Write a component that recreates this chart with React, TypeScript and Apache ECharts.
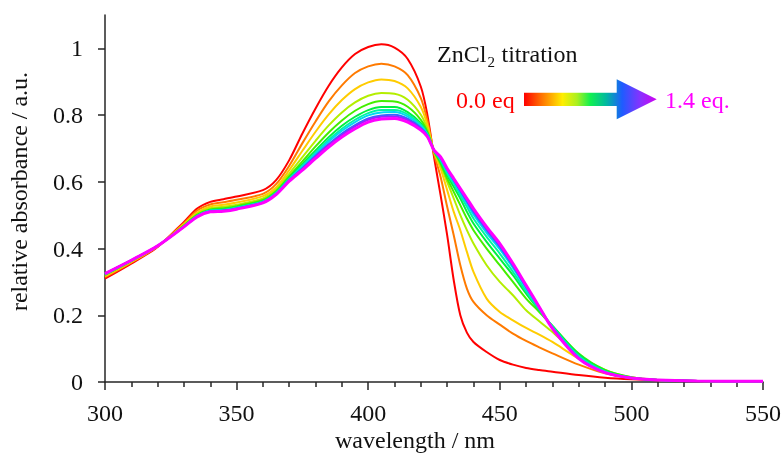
import React, { useEffect, useRef } from "react";
import * as echarts from "echarts";

// wavelength grid (nm)
const wavelengths = [
  300, 310, 320, 330, 335, 340, 345, 350, 360, 365,
  370, 375, 380, 385, 390, 395, 400, 405, 410, 415,
  420, 422.5, 425, 427.5, 430, 432.5, 435, 437.5, 440, 445,
  450, 455, 460, 465, 470, 480, 490, 500, 510, 525, 550,
];

// ZnCl2 equivalents for each trace
const eqLabels = ["0.00 eq", "0.14 eq", "0.28 eq", "0.42 eq", "0.56 eq", "0.70 eq", "0.84 eq", "0.98 eq", "1.12 eq", "1.26 eq", "1.40 eq"];

const abs00 = [
  0.31, 0.355, 0.405, 0.48, 0.52, 0.54, 0.548, 0.556, 0.575, 0.605,
  0.665, 0.745, 0.82, 0.888, 0.943, 0.983, 1.004, 1.012, 1.002, 0.968,
  0.885, 0.8, 0.675, 0.56, 0.44, 0.305, 0.2, 0.148, 0.12, 0.09,
  0.066, 0.052, 0.042, 0.036, 0.031, 0.021, 0.013, 0.008, 0.005, 0.003, 0.002,
];
const abs01 = [
  0.314, 0.358, 0.406, 0.476, 0.514, 0.532, 0.539, 0.546, 0.564, 0.593,
  0.648, 0.716, 0.781, 0.841, 0.889, 0.926, 0.946, 0.954, 0.946, 0.92,
  0.851, 0.783, 0.685, 0.615, 0.525, 0.44, 0.35, 0.28, 0.24, 0.2,
  0.172, 0.145, 0.123, 0.104, 0.086, 0.052, 0.026, 0.012, 0.006, 0.003, 0.002,
];
const abs02 = [
  0.317, 0.36, 0.406, 0.473, 0.508, 0.526, 0.531, 0.538, 0.557, 0.583,
  0.635, 0.693, 0.75, 0.802, 0.845, 0.878, 0.898, 0.907, 0.902, 0.88,
  0.824, 0.77, 0.69, 0.64, 0.575, 0.51, 0.455, 0.39, 0.33, 0.25,
  0.21, 0.185, 0.162, 0.142, 0.12, 0.07, 0.032, 0.013, 0.006, 0.003, 0.002,
];
const abs03 = [
  0.32, 0.362, 0.407, 0.47, 0.504, 0.521, 0.525, 0.531, 0.55, 0.576,
  0.624, 0.674, 0.723, 0.769, 0.808, 0.838, 0.858, 0.866, 0.864, 0.846,
  0.801, 0.758, 0.692, 0.65, 0.6, 0.55, 0.5, 0.455, 0.415, 0.35,
  0.3, 0.26, 0.215, 0.182, 0.15, 0.08, 0.036, 0.014, 0.006, 0.003, 0.002,
];
const abs04 = [
  0.321, 0.363, 0.407, 0.469, 0.501, 0.517, 0.521, 0.527, 0.546, 0.572,
  0.616, 0.661, 0.706, 0.748, 0.784, 0.813, 0.833, 0.842, 0.841, 0.825,
  0.786, 0.75, 0.693, 0.655, 0.61, 0.57, 0.53, 0.49, 0.455, 0.4,
  0.35, 0.3, 0.25, 0.21, 0.168, 0.085, 0.036, 0.014, 0.006, 0.003, 0.002,
];
const abs05 = [
  0.323, 0.363, 0.408, 0.467, 0.499, 0.515, 0.518, 0.524, 0.543, 0.568,
  0.612, 0.653, 0.694, 0.734, 0.768, 0.795, 0.815, 0.824, 0.824, 0.809,
  0.776, 0.745, 0.694, 0.66, 0.62, 0.585, 0.55, 0.51, 0.475, 0.42,
  0.37, 0.32, 0.265, 0.215, 0.168, 0.083, 0.034, 0.013, 0.006, 0.003, 0.002,
];
const abs06 = [
  0.323, 0.364, 0.408, 0.467, 0.498, 0.514, 0.516, 0.523, 0.541, 0.567,
  0.609, 0.648, 0.688, 0.726, 0.759, 0.786, 0.806, 0.815, 0.815, 0.802,
  0.771, 0.743, 0.694, 0.665, 0.625, 0.595, 0.56, 0.525, 0.49, 0.435,
  0.385, 0.33, 0.272, 0.217, 0.166, 0.078, 0.032, 0.013, 0.006, 0.003, 0.002,
];
const abs07 = [
  0.324, 0.364, 0.408, 0.466, 0.497, 0.513, 0.515, 0.521, 0.54, 0.566,
  0.607, 0.645, 0.684, 0.721, 0.753, 0.779, 0.799, 0.808, 0.809, 0.796,
  0.767, 0.741, 0.695, 0.668, 0.632, 0.6, 0.567, 0.535, 0.502, 0.447,
  0.398, 0.342, 0.28, 0.221, 0.165, 0.075, 0.03, 0.012, 0.006, 0.003, 0.002,
];
const abs08 = [
  0.324, 0.365, 0.408, 0.466, 0.496, 0.512, 0.514, 0.52, 0.539, 0.564,
  0.605, 0.641, 0.678, 0.713, 0.745, 0.77, 0.79, 0.799, 0.801, 0.789,
  0.762, 0.738, 0.695, 0.671, 0.636, 0.605, 0.573, 0.541, 0.51, 0.455,
  0.405, 0.348, 0.285, 0.223, 0.163, 0.072, 0.029, 0.012, 0.006, 0.003, 0.002,
];
const abs09 = [
  0.325, 0.365, 0.408, 0.465, 0.496, 0.511, 0.513, 0.519, 0.538, 0.563,
  0.604, 0.638, 0.675, 0.71, 0.74, 0.766, 0.786, 0.795, 0.796, 0.785,
  0.759, 0.736, 0.695, 0.673, 0.638, 0.608, 0.577, 0.546, 0.515, 0.46,
  0.41, 0.352, 0.288, 0.224, 0.162, 0.071, 0.028, 0.012, 0.006, 0.003, 0.002,
];
const abs10 = [
  0.325, 0.365, 0.408, 0.465, 0.495, 0.51, 0.512, 0.518, 0.537, 0.562,
  0.602, 0.635, 0.67, 0.704, 0.734, 0.759, 0.779, 0.788, 0.79, 0.779,
  0.755, 0.735, 0.695, 0.675, 0.64, 0.61, 0.58, 0.55, 0.52, 0.465,
  0.415, 0.355, 0.29, 0.225, 0.16, 0.07, 0.028, 0.012, 0.006, 0.003, 0.002,
];

const traces = [abs00, abs01, abs02, abs03, abs04, abs05, abs06, abs07, abs08, abs09, abs10];

const xTicks = [300, 350, 400, 450, 500, 550];
const yTicks = [0, 0.2, 0.4, 0.6, 0.8, 1];

const lineColors = [
  "#ff0000", "#ff7a00", "#ffcc00", "#b4ee00", "#44ee00", "#00f040",
  "#00f5a0", "#00d8f0", "#2f6bff", "#9a22ff", "#ff00ff",
];

const FONT = "Liberation Serif";

export default function App() {
  const ref = useRef<HTMLDivElement>(null);
  useEffect(() => {
    if (!ref.current) return;
    const chart = echarts.init(ref.current, null, { renderer: "svg" });
    const axisColor = "#262626";
    chart.setOption({
      animation: false,
      textStyle: { fontFamily: FONT },
      grid: { left: 105, right: 21, top: 15, bottom: 71 },
      xAxis: {
        type: "value",
        min: xTicks[0],
        max: xTicks[xTicks.length - 1],
        interval: 50,
        axisLine: { show: true, onZero: false, lineStyle: { color: axisColor, width: 1.5 } },
        axisTick: { show: true, length: 8, lineStyle: { color: axisColor, width: 1.5 } },
        minorTick: { show: true, splitNumber: 5, length: 5, lineStyle: { color: axisColor, width: 1.5 } },
        axisLabel: { margin: 19, fontSize: 24, fontFamily: FONT, color: "#111" },
        splitLine: { show: false },
        minorSplitLine: { show: false },
      },
      yAxis: {
        type: "value",
        min: 0,
        max: 1.1,
        interval: 0.2,
        axisLine: { show: true, onZero: false, lineStyle: { color: axisColor, width: 1.5 } },
        axisTick: { show: true, length: 7, customValues: yTicks, lineStyle: { color: axisColor, width: 1.5 } },
        axisLabel: { margin: 22, fontSize: 24, fontFamily: FONT, color: "#111", customValues: yTicks },
        splitLine: { show: false },
      },
      series: traces.map((vals, i) => ({
        name: eqLabels[i],
        type: "line",
        data: wavelengths.map((w, j) => [w, vals[j]]),
        showSymbol: false,
        smooth: 0.3,
        lineStyle: { color: lineColors[i], width: i === traces.length - 1 ? 3 : 2 },
        z: 2 + i,
      })),
      graphic: [
        {
          type: "text",
          x: 19,
          y: 191.5,
          rotation: Math.PI / 2,
          style: { text: "relative absorbance / a.u.", fontSize: 24, fontFamily: FONT, fill: "#111", align: "center", verticalAlign: "middle" },
        },
        {
          type: "text",
          x: 415,
          y: 440,
          style: { text: "wavelength / nm", fontSize: 24, fontFamily: FONT, fill: "#111", align: "center", verticalAlign: "middle" },
        },
        {
          type: "text",
          x: 437,
          y: 53.6,
          style: { text: "ZnCl", fontSize: 24, fontFamily: FONT, fill: "#111", align: "left", verticalAlign: "middle" },
        },
        {
          type: "text",
          x: 487.5,
          y: 62,
          style: { text: "2", fontSize: 15, fontFamily: FONT, fill: "#111", align: "left", verticalAlign: "middle" },
        },
        {
          type: "text",
          x: 501.5,
          y: 53.6,
          style: { text: "titration", fontSize: 24, fontFamily: FONT, fill: "#111", align: "left", verticalAlign: "middle" },
        },
        {
          type: "text",
          x: 456,
          y: 100,
          style: { text: "0.0 eq", fontSize: 24, fontFamily: FONT, fill: "#ff0000", align: "left", verticalAlign: "middle" },
        },
        {
          type: "polygon",
          shape: {
            points: [
              [524, 92.7], [616.7, 92.7], [616.7, 79.3], [656.7, 99.3],
              [616.7, 119.3], [616.7, 106], [524, 106],
            ],
          },
          style: {
            fill: new echarts.graphic.LinearGradient(0, 0, 1, 0, [
              { offset: 0, color: "#ff0000" },
              { offset: 0.13, color: "#ff7000" },
              { offset: 0.29, color: "#ffee00" },
              { offset: 0.4, color: "#aaf020" },
              { offset: 0.5, color: "#10f050" },
              { offset: 0.62, color: "#00b8a0" },
              { offset: 0.74, color: "#1e5cff" },
              { offset: 0.88, color: "#8a30ff" },
              { offset: 1, color: "#d000f0" },
            ]),
            stroke: "none",
          },
        },
        {
          type: "text",
          x: 665,
          y: 100,
          style: { text: "1.4 eq.", fontSize: 24, fontFamily: FONT, fill: "#ff00ff", align: "left", verticalAlign: "middle" },
        },
      ],
    });
    return () => chart.dispose();
  }, []);
  return <div ref={ref} style={{ position: "fixed", left: 0, top: 0, width: 784, height: 453 }} />;
}
